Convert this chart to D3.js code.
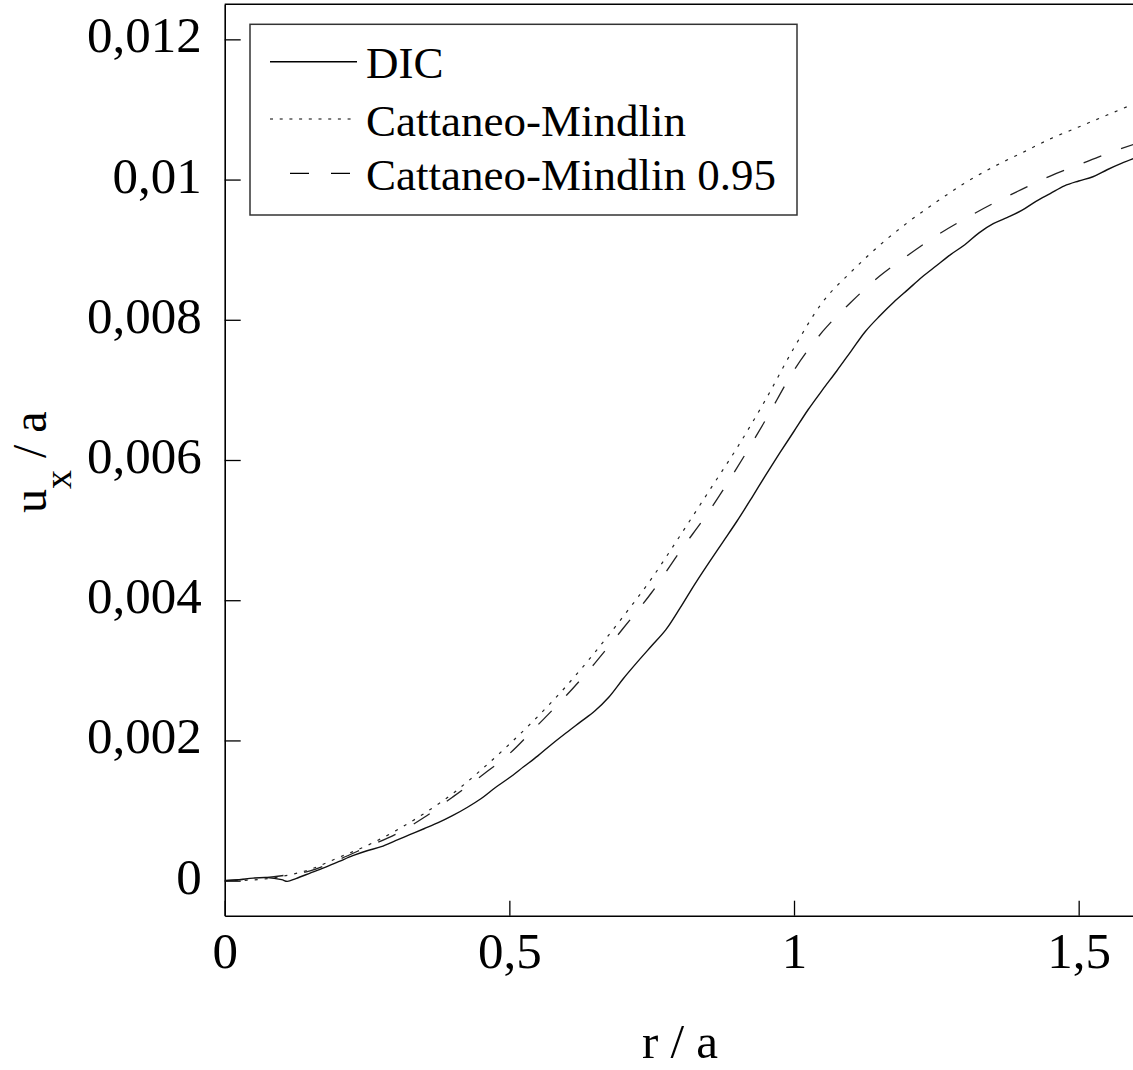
<!DOCTYPE html>
<html>
<head>
<meta charset="utf-8">
<script src="https://cdn.jsdelivr.net/npm/d3@7"></script>
<style>
  html, body { margin: 0; padding: 0; background: #fff; }
  svg { display: block; }
  text { font-family: "Liberation Serif", "Times New Roman", serif; fill: #000; }
</style>
</head>
<body>
<svg id="chart" width="1133" height="1070"></svg>
<script>
// ---- data ----
const seriesNames = ["DIC", "Cattaneo-Mindlin", "Cattaneo-Mindlin 0.95"];

const dicX = [0, 0.025, 0.05, 0.075, 0.1, 0.11, 0.125, 0.15, 0.175, 0.2, 0.225, 0.25, 0.275, 0.3, 0.325, 0.35, 0.375, 0.4, 0.425, 0.45, 0.475, 0.5, 0.525, 0.55, 0.575, 0.6, 0.625, 0.65, 0.675, 0.7, 0.725, 0.75, 0.775, 0.8, 0.825, 0.85, 0.875, 0.9, 0.925, 0.95, 0.975, 1.0, 1.025, 1.05, 1.075, 1.1, 1.125, 1.15, 1.175, 1.2, 1.225, 1.25, 1.275, 1.3, 1.325, 1.35, 1.375, 1.4, 1.425, 1.45, 1.475, 1.5, 1.525, 1.55, 1.575, 1.6];
const dicY = [0, 0.014, 0.036, 0.043, 0.014, -0.01, 0.03, 0.107, 0.185, 0.27, 0.356, 0.427, 0.484, 0.57, 0.655, 0.74, 0.826, 0.926, 1.04, 1.168, 1.325, 1.467, 1.624, 1.78, 1.95, 2.11, 2.265, 2.42, 2.62, 2.88, 3.12, 3.35, 3.58, 3.89, 4.22, 4.53, 4.83, 5.13, 5.45, 5.78, 6.10, 6.41, 6.72, 7.0, 7.27, 7.55, 7.83, 8.05, 8.25, 8.43, 8.61, 8.77, 8.93, 9.07, 9.24, 9.37, 9.46, 9.56, 9.69, 9.80, 9.91, 9.98, 10.04, 10.14, 10.23, 10.31];

const modelX = [0, 0.05, 0.1, 0.15, 0.2, 0.25, 0.3, 0.35, 0.4, 0.45, 0.5, 0.55, 0.6, 0.65, 0.7, 0.75, 0.8, 0.85, 0.9, 0.95, 1.0, 1.05, 1.1, 1.15, 1.2, 1.25, 1.3, 1.35, 1.4, 1.45, 1.5, 1.55, 1.6];
const cmY = [0, 0.01, 0.06, 0.16, 0.33, 0.5, 0.71, 0.956, 1.238, 1.577, 1.946, 2.342, 2.775, 3.254, 3.768, 4.311, 4.922, 5.548, 6.174, 6.859, 7.6, 8.25, 8.68, 9.06, 9.39, 9.68, 9.95, 10.18, 10.38, 10.58, 10.75, 10.92, 11.09];
const cm95Y = [0, 0.03, 0.07, 0.14, 0.30, 0.48, 0.66, 0.90, 1.19, 1.49, 1.81, 2.22, 2.64, 3.10, 3.60, 4.11, 4.70, 5.26, 5.89, 6.57, 7.28, 7.83, 8.25, 8.62, 8.92, 9.20, 9.44, 9.66, 9.86, 10.05, 10.21, 10.37, 10.51];
const yScaleFactor = 0.001; // values above are in units of 1e-3

const xTickValues = [0, 0.5, 1, 1.5];
const xTickLabels = ["0", "0,5", "1", "1,5"];
const yTickValues = [0, 0.002, 0.004, 0.006, 0.008, 0.01, 0.012];
const yTickLabels = ["0", "0,002", "0,004", "0,006", "0,008", "0,01", "0,012"];

// ---- layout ----
const svg = d3.select("#chart");
const mLeft = 224.7, mRight = 1135.6, mTop = 4.3, mBottom = 915.7;

const x = d3.scaleLinear().domain([0, 1.6]).range([mLeft, mRight]);
const y = d3.scaleLinear().domain([-0.0005, 0.0125]).range([mBottom, mTop]);

svg.append("defs").append("clipPath").attr("id", "clip")
  .append("rect").attr("x", mLeft).attr("y", mTop).attr("width", mRight - mLeft).attr("height", mBottom - mTop);

// frame
svg.append("line").attr("x1", mLeft).attr("x2", 1133).attr("y1", mTop).attr("y2", mTop)
  .attr("stroke", "#000").attr("stroke-width", 1.6);

// axes
const xAxis = d3.axisBottom(x).tickValues(xTickValues).tickSizeInner(-15).tickSizeOuter(0)
  .tickFormat((d, i) => xTickLabels[i]).tickPadding(0);
const gx = svg.append("g").attr("transform", `translate(0,${mBottom})`).call(xAxis);
gx.select(".domain").attr("stroke", "#000").attr("stroke-width", 1.6);
gx.selectAll(".tick line").attr("stroke", "#000").attr("stroke-width", 1.3);
gx.selectAll(".tick text").attr("font-size", 51).attr("y", 52).attr("dy", 0)
  .attr("font-family", "Liberation Serif").attr("fill", "#000");

const yAxis = d3.axisLeft(y).tickValues(yTickValues).tickSizeInner(-16).tickSizeOuter(0)
  .tickFormat((d, i) => yTickLabels[i]);
const gy = svg.append("g").attr("transform", `translate(${mLeft},0)`).call(yAxis);
gy.select(".domain").attr("stroke", "#000").attr("stroke-width", 1.6);
gy.selectAll(".tick line").attr("stroke", "#000").attr("stroke-width", 1.3);
gy.selectAll(".tick text").attr("font-size", 51).attr("x", -23).attr("dy", 12.5)
  .attr("font-family", "Liberation Serif").attr("fill", "#000").attr("text-anchor", "end");

// lines
const dicData = dicX.map((v, i) => [v, dicY[i] * yScaleFactor]);
const cmData = modelX.map((v, i) => [v, cmY[i] * yScaleFactor]);
const cm95Data = modelX.map((v, i) => [v, cm95Y[i] * yScaleFactor]);

const lineDic = d3.line().x(d => x(d[0])).y(d => y(d[1])).curve(d3.curveCatmullRom.alpha(0.5));
const lineSmooth = d3.line().x(d => x(d[0])).y(d => y(d[1])).curve(d3.curveMonotoneX);

const plot = svg.append("g").attr("clip-path", "url(#clip)");
plot.append("path").datum(cmData).attr("d", lineSmooth)
  .attr("fill", "none").attr("stroke", "#222").attr("stroke-width", 1.2).attr("stroke-dasharray", "3,7");
plot.append("path").datum(cm95Data).attr("d", lineSmooth)
  .attr("fill", "none").attr("stroke", "#222").attr("stroke-width", 1.3).attr("stroke-dasharray", "19,21");
plot.append("path").datum(dicData).attr("d", lineDic)
  .attr("fill", "none").attr("stroke", "#111").attr("stroke-width", 1.4);

// legend
const lg = svg.append("g");
lg.append("rect").attr("x", 250).attr("y", 24.3).attr("width", 547).attr("height", 190.7)
  .attr("fill", "#fff").attr("stroke", "#333").attr("stroke-width", 1.5);
const legendStyles = [
  { dash: null, offset: 0, w: 1.4 },
  { dash: "3,6.7", offset: 0, w: 1.2 },
  { dash: "19,22", offset: 21, w: 1.3 }
];
const legendRowsY = [61.7, 119, 173.3];
seriesNames.forEach((name, i) => {
  const ly = legendRowsY[i];
  const l = lg.append("line").attr("x1", 270).attr("x2", 357).attr("y1", ly).attr("y2", ly)
    .attr("stroke", "#000").attr("stroke-width", legendStyles[i].w);
  if (legendStyles[i].dash) l.attr("stroke-dasharray", legendStyles[i].dash).attr("stroke-dashoffset", legendStyles[i].offset);
  lg.append("text").attr("x", 366).attr("y", ly + 16.5).attr("font-size", 45).text(name);
});

// axis titles
svg.append("text").attr("x", 680).attr("y", 1058).attr("text-anchor", "middle")
  .attr("font-size", 49).text("r / a");

const yt = svg.append("text").attr("transform", "translate(46,513) rotate(-90)")
  .attr("font-size", 48).attr("text-anchor", "start");
yt.append("tspan").text("u");
yt.append("tspan").attr("font-size", 38).attr("dy", 25).text("x");
yt.append("tspan").attr("dy", -25).text(" / a");
</script>
</body>
</html>
